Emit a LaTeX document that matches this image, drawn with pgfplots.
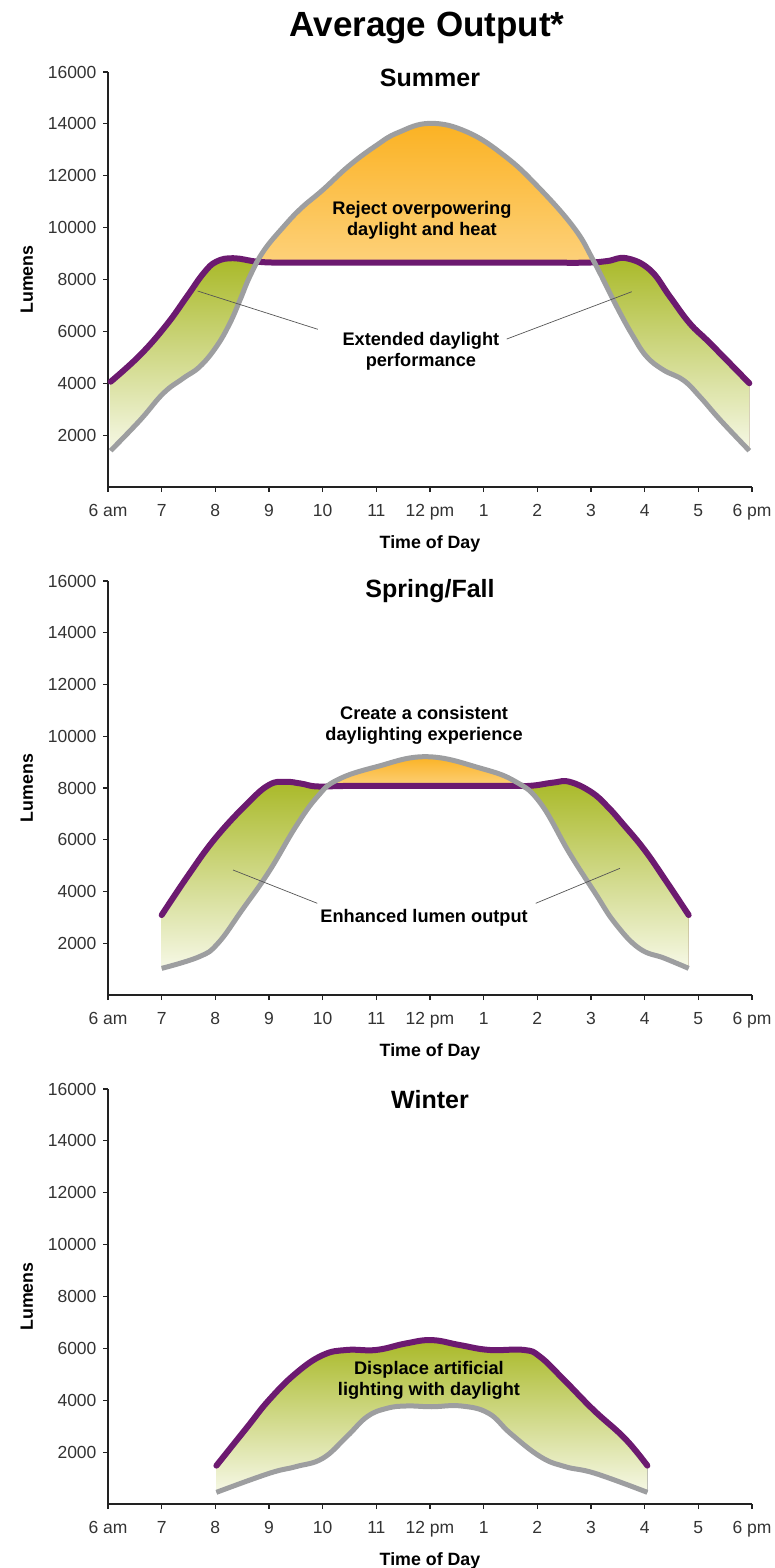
\documentclass[border=0pt]{standalone}
\usepackage{fontspec}
\setmainfont{Liberation Sans}
\usepackage{pgfplots}
\usepackage{pgfplotstable}
\pgfplotsset{compat=1.18}
\usepgfplotslibrary{fillbetween}

\definecolor{purp}{HTML}{6C1A70}
\definecolor{gry}{HTML}{9D9EA0}
\definecolor{grtop}{HTML}{A9B928}
\definecolor{grbot}{HTML}{F6F8E6}
\definecolor{ortop}{HTML}{FBB223}
\definecolor{orbot}{HTML}{FDD17A}
\definecolor{axisc}{HTML}{222222}
\definecolor{tickc}{HTML}{333333}
\definecolor{leaderc}{HTML}{555555}

% summer
\pgfplotstableread{
h v
6.05 4060
6.6 5090
7.09 6250
7.47 7340
7.78 8240
8.02 8690
8.34 8820
8.77 8690
9.2 8650
10 8650
12 8650
14 8650
14.9 8650
15.3 8710
15.66 8820
16.1 8370
16.47 7340
16.84 6310
17.22 5540
17.95 4000
}\sumP
\pgfplotstableread{
h v
6.05 1400
6.6 2580
7.03 3610
7.4 4190
7.71 4640
8.02 5410
8.27 6310
8.46 7210
8.65 8150
8.9 9100
9.27 10030
9.6 10750
10.0 11450
10.5 12400
11.0 13170
11.4 13660
12.0 14020
12.7 13680
13.4 12750
14.0 11600
14.67 10030
15.04 8750
15.48 6950
15.79 5790
16.04 5020
16.35 4510
16.72 4120
17.03 3480
17.41 2580
17.95 1400
}\sumG
% spring / fall
\pgfplotstableread{
h v
7.0 3090
7.5 4640
8.0 6060
8.6 7410
9.0 8120
9.3 8240
9.6 8170
9.9 8060
10.5 8080
12 8080
13.5 8080
13.9 8090
14.3 8210
14.6 8240
15.0 7850
15.3 7300
15.6 6600
16.0 5600
16.4 4400
16.82 3090
}\sprP
\pgfplotstableread{
h v
7.0 1030
7.7 1480
8.05 2000
8.5 3290
9.0 4770
9.5 6510
9.9 7660
10.27 8310
11.0 8820
11.94 9210
12.95 8760
13.6 8240
14.06 7410
14.6 5480
15.08 3930
15.45 2770
15.9 1800
16.37 1420
16.82 1030
}\sprG
% winter
\pgfplotstableread{
h v
8.02 1480
8.6 2980
9.0 4010
9.5 5040
10.0 5740
10.45 5940
11.0 5940
11.55 6190
12.03 6320
12.55 6130
13.1 5940
13.75 5940
14.05 5680
14.5 4780
15.05 3620
15.63 2530
16.05 1480
}\winP
\pgfplotstableread{
h v
8.02 450
9.0 1180
9.5 1440
10.0 1760
10.45 2600
10.83 3370
11.2 3690
11.57 3780
12.03 3750
12.58 3780
13.09 3500
13.5 2720
14.06 1820
14.52 1440
15.08 1180
16.05 450
}\winG

\tikzset{
  green seg/.style={top color=grtop, bottom color=grbot, draw=none},
  orange seg/.style={top color=ortop, bottom color=orbot, draw=none},
  note/.style={font=\bfseries\fontsize{18.2}{21}\selectfont, align=center, text=black},
  lead/.style={line width=0.7pt, draw=leaderc},
  season/.style={font=\bfseries\fontsize{25}{25}\selectfont, anchor=base},
}
\pgfplotsset{
  daylight/.style={
    scale only axis, width=644pt, height=415pt,
    xmin=6, xmax=18, ymin=0, ymax=16000,
    axis lines=left,
    axis line style={-, line width=1.3pt, draw=axisc},
    xtick={6,...,18},
    xticklabels={6 am,7,8,9,10,11,12 pm,1,2,3,4,5,6 pm},
    ytick={2000,4000,...,16000},
    scaled y ticks=false,
    y tick label style={/pgf/number format/1000 sep={}, xshift=-3pt},
    /pgf/number format/assume math mode=true,
    tick label style={font=\fontsize{17.5}{17.5}\selectfont, text=tickc},
    x tick label style={yshift=-8.5pt},
    tick style={line width=1.2pt, draw=axisc},
    major tick length=5pt, tick align=outside,
    xlabel={Time of Day}, ylabel={Lumens},
    label style={font=\bfseries\fontsize{17.8}{17.8}\selectfont},
    xlabel style={at={(axis description cs:0.5,-0.138)}, anchor=center},
    ylabel style={at={(axis description cs:-0.126,0.5)}, anchor=center},
    clip=false,
  },
  curve/.style={smooth, tension=0.7},
  purpline/.style={curve, purp, line width=6pt, line cap=round, line join=round},
  grayline/.style={curve, gry, line width=5pt, line join=round},
}

\begin{document}
\begin{tikzpicture}
\node[font=\bfseries\fontsize{35}{35}\selectfont] at (427pt,-28pt) {Average Output*};

% ---- Summer
\begin{axis}[daylight, at={(108pt,-487pt)}, anchor=south west]
  \addplot[name path=p1, draw=none, curve] table {\sumP};
  \addplot[name path=g1, draw=none, curve] table {\sumG};
  \addplot fill between[of=p1 and g1, split,
    every segment no 0/.style={green seg},
    every segment no 1/.style={orange seg},
    every segment no 2/.style={green seg}];
  \addplot[purpline] table {\sumP};
  \addplot[grayline] table {\sumG};
  \node[season] at (rel axis cs:0.5,0.964) {Summer};
  \node[note] at (axis cs:11.85,10293) {Reject overpowering\\daylight and heat};
  \node[note] at (axis cs:11.83,5243) {Extended daylight\\performance};
  \draw[lead] (axis cs:7.67,7556) -- (axis cs:9.91,6080);
  \draw[lead] (axis cs:13.43,5705) -- (axis cs:15.76,7529);
\end{axis}

% ---- Spring/Fall
\begin{axis}[daylight, at={(108pt,-995pt)}, anchor=south west, height=414pt]
  \addplot[name path=p2, draw=none, curve] table {\sprP};
  \addplot[name path=g2, draw=none, curve] table {\sprG};
  \addplot fill between[of=p2 and g2, split,
    every segment no 0/.style={green seg},
    every segment no 1/.style={orange seg},
    every segment no 2/.style={green seg}];
  \addplot[purpline] table {\sprP};
  \addplot[grayline] table {\sprG};
  \node[season] at (rel axis cs:0.5,0.96) {Spring/Fall};
  \node[note] at (axis cs:11.89,10415) {Create a consistent\\daylighting experience};
  \node[note] at (axis cs:11.89,2976) {Enhanced lumen output};
  \draw[lead] (axis cs:8.33,4831) -- (axis cs:9.90,3544);
  \draw[lead] (axis cs:13.97,3544) -- (axis cs:15.54,4897);
\end{axis}

% ---- Winter
\begin{axis}[daylight, at={(108pt,-1504pt)}, anchor=south west]
  \addplot[name path=p3, draw=none, curve] table {\winP};
  \addplot[name path=g3, draw=none, curve] table {\winG};
  \addplot[green seg] fill between[of=p3 and g3];
  \addplot[purpline] table {\winP};
  \addplot[grayline] table {\winG};
  \node[season] at (rel axis cs:0.5,0.952) {Winter};
  \node[note] at (axis cs:11.98,4780) {Displace artificial\\lighting with daylight};
\end{axis}
\pgfresetboundingbox
\useasboundingbox (0,0) rectangle (774pt,-1568pt);
\end{tikzpicture}
\end{document}
